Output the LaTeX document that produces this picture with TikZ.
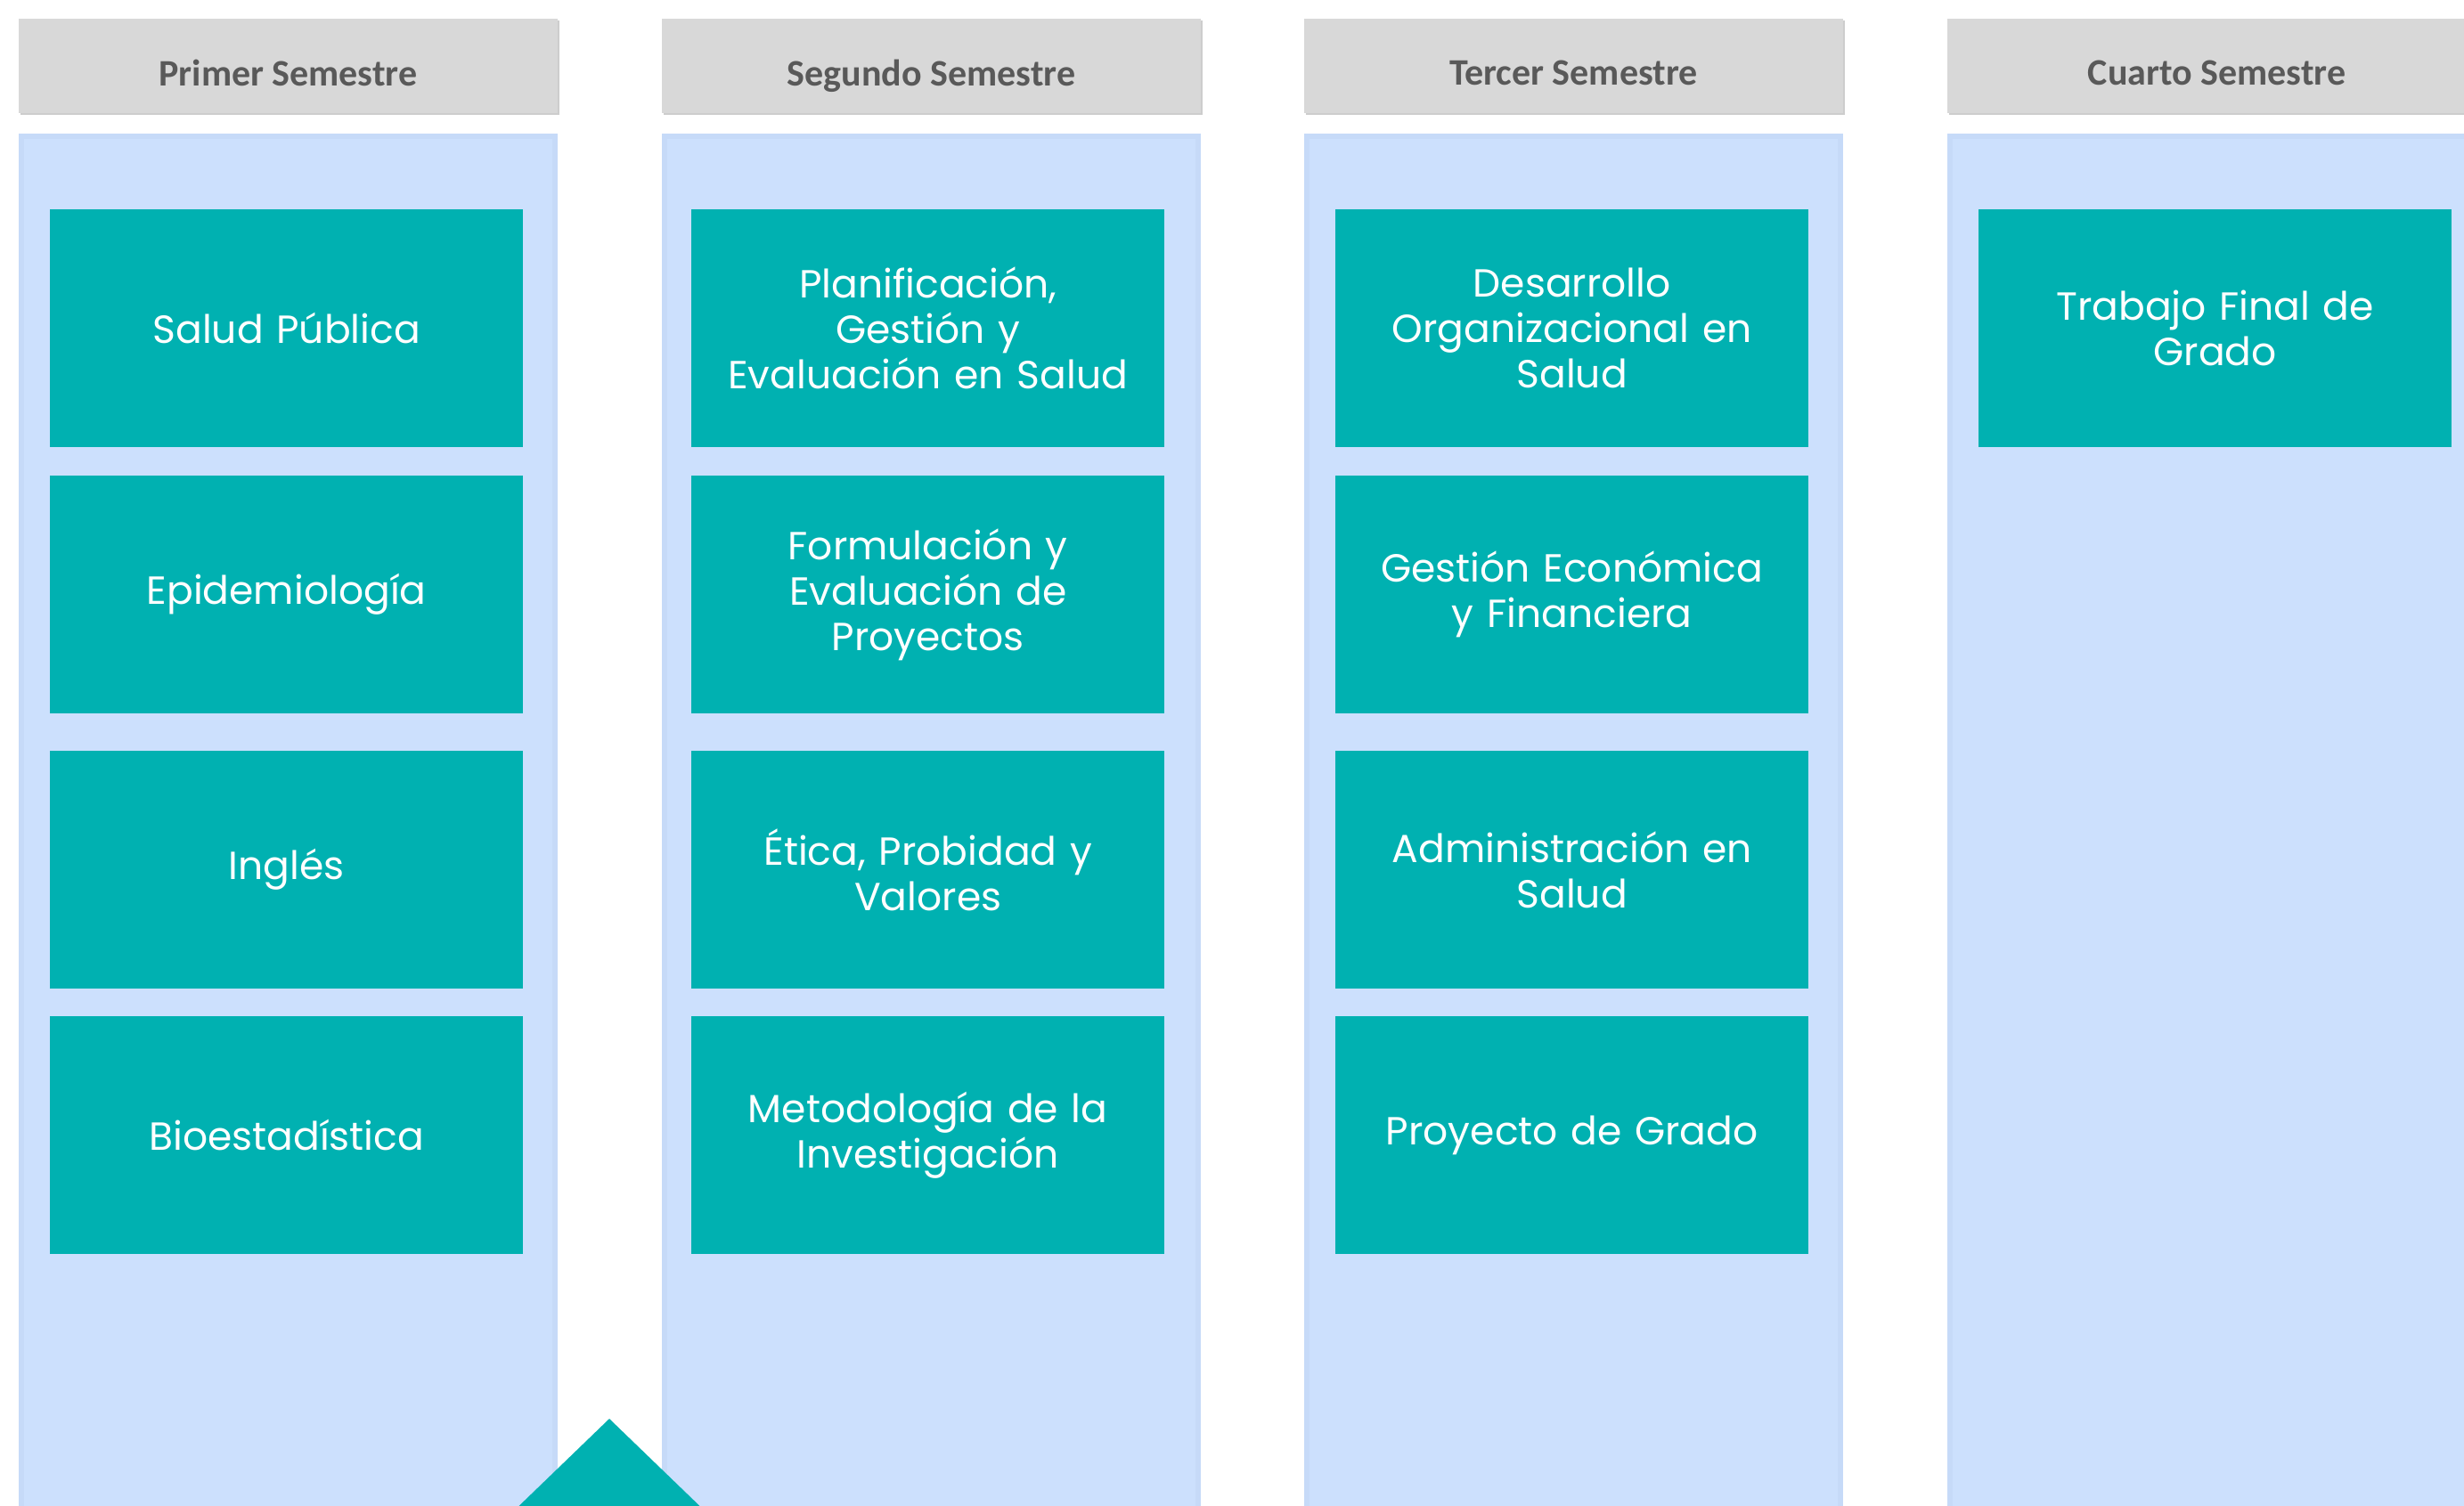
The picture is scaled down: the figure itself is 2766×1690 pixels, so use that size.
\documentclass[tikz,border=0pt]{standalone}
\usepackage{fontspec}
\setmainfont{Poppins}
\newfontfamily\headfont{Carlito}
\definecolor{teal0}{HTML}{00B1B1}
\definecolor{colblue}{HTML}{CCE0FD}
\definecolor{colblueedge}{HTML}{C6DAF8}
\definecolor{headgray}{HTML}{D8D8D8}
\definecolor{headshadow}{HTML}{CDCDCD}
\definecolor{headtext}{HTML}{595959}
\begin{document}
\begin{tikzpicture}[x=1pt,y=-1pt,
  column/.style={fill=colblue, draw=colblueedge, line width=6pt},
  header/.style={fill=headgray, draw=none, minimum width=605pt, minimum height=106pt, inner sep=0pt,
     text depth=0pt, font=\headfont\bfseries\fontsize{42}{48}\selectfont, text=headtext},
  course/.style={fill=teal0, draw=none, minimum width=531pt, minimum height=267pt, inner sep=0pt,
     text width=520pt, align=center, text=white, font=\fontsize{44}{51}\selectfont},
]
\useasboundingbox (0,0) rectangle (2766,1690);
\fill[white] (0,0) rectangle (2766,1690);
\begin{scope}
\clip (0,0) rectangle (2766,1690);
% columns and headers
\foreach \i/\x/\t in {1/21/Primer Semestre,2/743/Segundo Semestre,3/1464/Tercer Semestre,4/2186/Cuarto Semestre}{
  \fill[headshadow] (\x+2,23) rectangle (\x+607,129);
  \fill[headgray] (\x,21) rectangle (\x+605,127);
  \node[header, fill=none, minimum height=0pt, anchor=center] (h\i) at (\x+302.5,82) {\t};
  \draw[column] (\x+3,153) rectangle (\x+602,1700);
}

% first semester
\node[course, anchor=north west] (a1) at (56,235) {Salud Pública};
\node[course, anchor=north west] (a2) at (56,534) {Epidemiología};
\node[course, anchor=north west] (a3) at (56,843) {Inglés};
\node[course, anchor=north west] (a4) at (56,1141) {Bioestadística};
% second semester
\node[course, anchor=north west] (b1) at (776,235) {Planificación,\\Gestión y\\Evaluación en Salud};
\node[course, anchor=north west] (b2) at (776,534) {Formulación y\\Evaluación de\\Proyectos};
\node[course, anchor=north west] (b3) at (776,843) {Ética, Probidad y\\Valores};
\node[course, anchor=north west] (b4) at (776,1141) {Metodología de la\\Investigación};
% third semester
\node[course, anchor=north west] (d1) at (1499,235) {Desarrollo\\Organizacional en\\Salud};
\node[course, anchor=north west] (d2) at (1499,534) {Gestión Económica\\y Financiera};
\node[course, anchor=north west] (d3) at (1499,843) {Administración en\\Salud};
\node[course, anchor=north west] (d4) at (1499,1141) {Proyecto de Grado};
% fourth semester
\node[course, anchor=north west] (e1) at (2221,235) {Trabajo Final de\\Grado};

% triangle marker at bottom
\fill[teal0] (684,1593) -- (800,1705) -- (568,1705) -- cycle;
\end{scope}
\end{tikzpicture}
\end{document}
